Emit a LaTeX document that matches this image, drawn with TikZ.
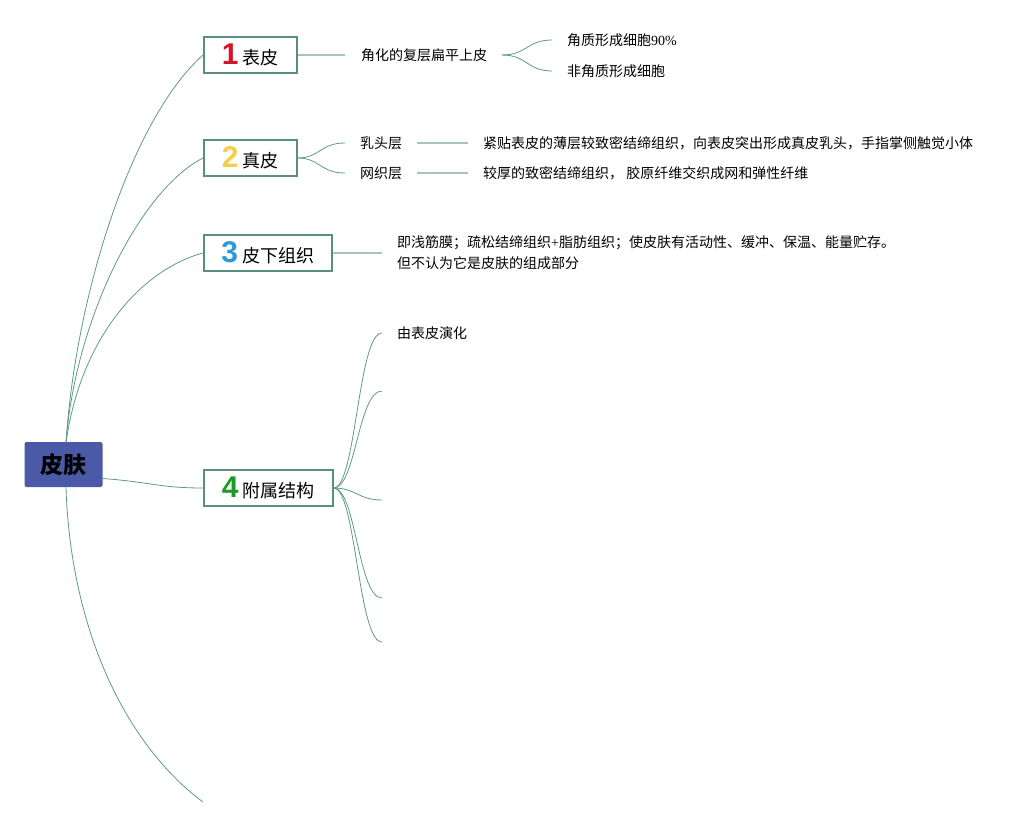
\documentclass[tikz,border=0pt]{standalone}
\usepackage{fontspec}
\setmainfont{Noto Sans CJK SC}
\newfontfamily\numfont{Liberation Sans}
\newfontfamily\latinfont{Liberation Serif}
\definecolor{rootblue}{HTML}{4A5AA7}
\definecolor{boxgreen}{HTML}{5A8F7E}
\definecolor{linkgreen}{HTML}{5E9A86}
\definecolor{stubgreen}{HTML}{A3C6BA}
\definecolor{numred}{HTML}{D7132A}
\definecolor{numyellow}{HTML}{F2D04A}
\definecolor{numblue}{HTML}{2B9BD8}
\definecolor{numgreen}{HTML}{1E9A2B}
\newcommand{\topicnum}[2]{{\numfont\bfseries\fontsize{30}{30}\selectfont\color{#1}#2}\hspace{4pt}}
\begin{document}
\begin{tikzpicture}[x=1pt, y=-1pt,
    rootbox/.style={fill=rootblue, rounded corners=2pt, minimum width=78pt, minimum height=45pt,
      font=\bfseries\fontsize{23}{23}\selectfont, inner sep=0pt},
    topicbox/.style={draw=boxgreen, line width=1.6pt, fill=white, minimum height=36pt,
      font=\fontsize{18}{18}\selectfont, inner sep=0pt, anchor=west},
    leaf/.style={anchor=west, inner xsep=15pt, inner ysep=2pt, font=\fontsize{14}{21}\selectfont},
    link/.style={draw=linkgreen, line width=0.8pt},
    stub/.style={draw=stubgreen, line width=1.6pt}
  ]
    \useasboundingbox (0,0) rectangle (1033,828);

    % Draw root
    \node[rootbox] (skin) at (63.5,464.5) {皮肤};

    % Draw main topics
    \node[topicbox, minimum width=93pt] (epi) at (203,55) {\topicnum{numred}{1}表皮};
    \node[topicbox, minimum width=93pt] (derm) at (203,158) {\topicnum{numyellow}{2}真皮};
    \node[topicbox, minimum width=128pt] (hypo) at (203,253) {\topicnum{numblue}{3}皮下组织};
    \node[topicbox, minimum width=129pt] (adn) at (203,488) {\topicnum{numgreen}{4}附属结构};
    \coordinate (last) at (203,802);

    % Draw branches from root
    \coordinate (skintop) at (66,443);
    \coordinate (skinbot) at (66,487);
    \draw[link] (skintop) .. controls (75,300) and (130,120) .. (epi.west);
    \draw[link] (skintop) .. controls (75,320) and (140,190) .. (derm.west);
    \draw[link] (skintop) .. controls (80,340) and (140,270) .. (hypo.west);
    \draw[link] (skin.east) ++(0,14) coordinate (skinright) .. controls (150,482) and (160,488) .. (adn.west);
    \draw[link] (skinbot) .. controls (70,620) and (120,740) .. (last);

    % Epidermis
    \node[leaf, inner xsep=0pt] (kerat) at (361,55) {角化的复层扁平上皮};
    \node[leaf] (kc) at (552,40) {角质形成细胞{\latinfont 90\%}};
    \node[leaf] (nkc) at (552,71) {非角质形成细胞};
    \draw[stub, shorten >=16pt] (epi.east) -- (kerat.west);
    \coordinate (fork1) at (502,55);
    \draw[link] (fork1) .. controls (527,55) and (527,40) .. (kc.west);
    \draw[link] (fork1) .. controls (527,55) and (527,71) .. (nkc.west);

    % Dermis
    \node[leaf] (pap) at (345,143) {乳头层};
    \node[leaf] (ret) at (345,173) {网织层};
    \node[leaf] (papdesc) at (468,143) {紧贴表皮的薄层较致密结缔组织，向表皮突出形成真皮乳头，手指掌侧触觉小体};
    \node[leaf] (retdesc) at (468,173) {较厚的致密结缔组织， 胶原纤维交织成网和弹性纤维};
    \draw[link] (derm.east) .. controls (320,158) and (320,143) .. (pap.west);
    \draw[link] (derm.east) .. controls (320,158) and (320,173) .. (ret.west);
    \draw[stub, line width=1.2pt] (pap.east) -- (papdesc.west);
    \draw[stub, line width=1.2pt] (ret.east) -- (retdesc.west);

    % Hypodermis
    \node[leaf, align=left] (hypodesc) at (382,253) {即浅筋膜；疏松结缔组织{\latinfont +}脂肪组织；使皮肤有活动性、缓冲、保温、能量贮存。\\但不认为它是皮肤的组成部分};
    \draw[stub] (hypo.east) -- (hypodesc.west);

    % Appendages
    \node[leaf] (origin) at (382,333) {由表皮演化};
    \coordinate (adn2) at (382,391);
    \coordinate (adn3) at (382,500);
    \coordinate (adn4) at (382,598);
    \coordinate (adn5) at (382,642);
    \draw[link] (adn.east) .. controls (356,488) and (358,333) .. (origin.west);
    \draw[link] (adn.east) .. controls (356,488) and (358,391) .. (adn2);
    \draw[link] (adn.east) .. controls (356,488) and (358,500) .. (adn3);
    \draw[link] (adn.east) .. controls (356,488) and (358,598) .. (adn4);
    \draw[link] (adn.east) .. controls (356,488) and (358,642) .. (adn5);
  \end{tikzpicture}
\end{document}
